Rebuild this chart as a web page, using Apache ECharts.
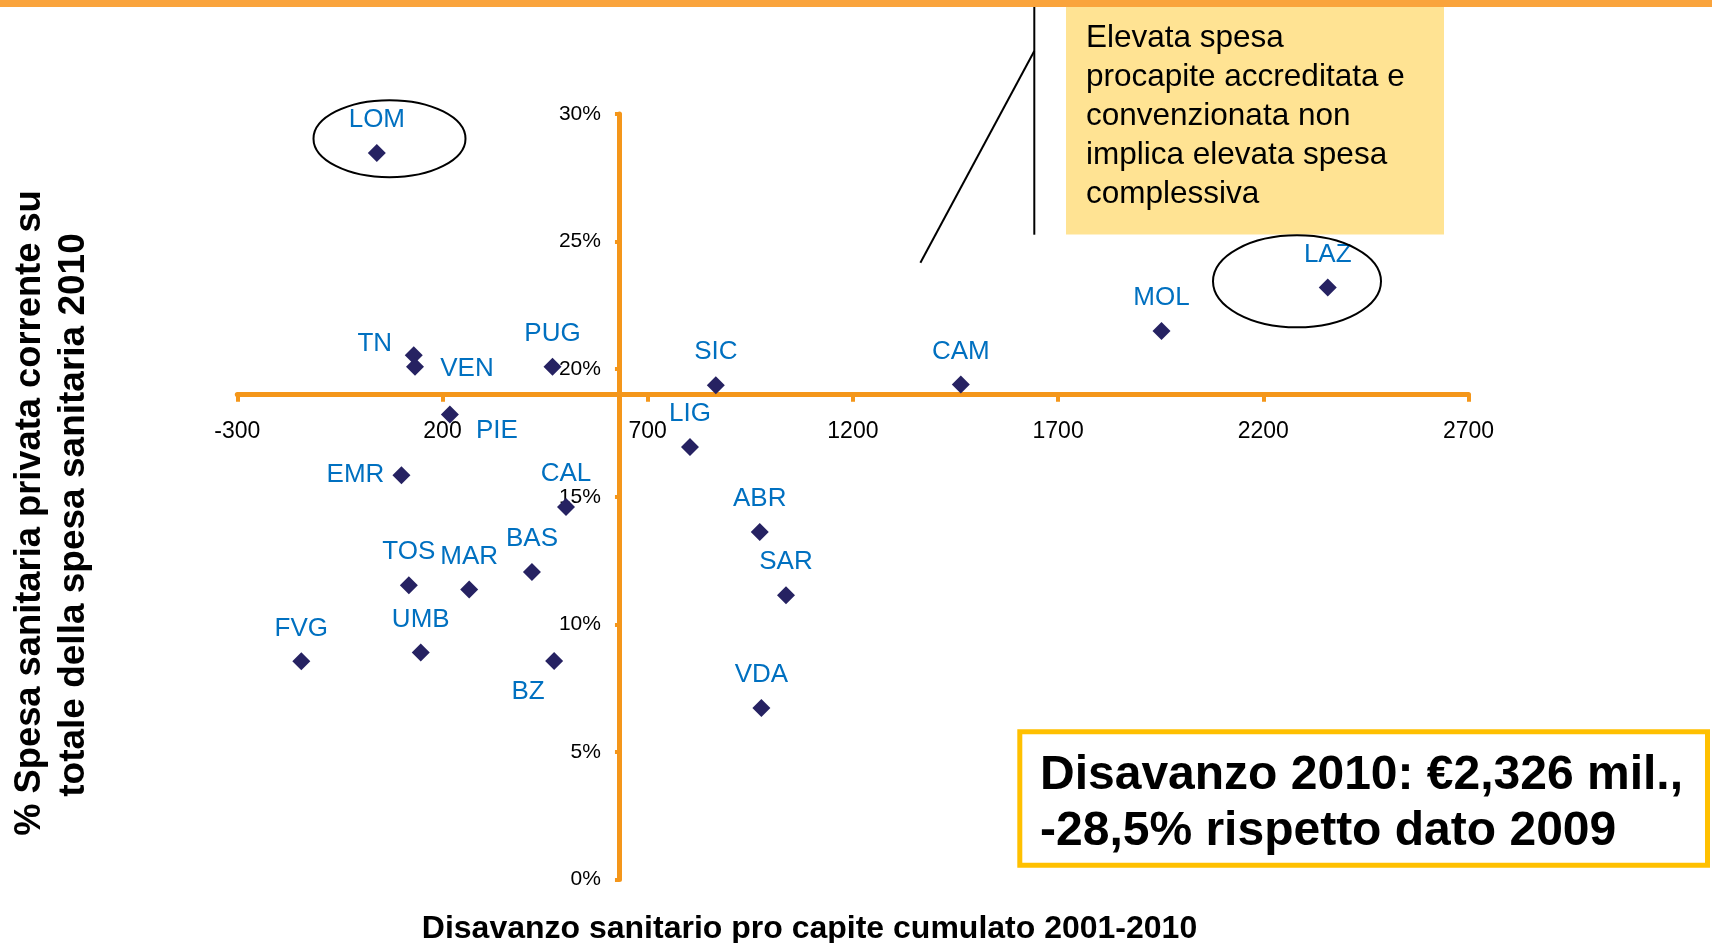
<!DOCTYPE html>
<html>
<head>
<meta charset="utf-8">
<script src="https://cdn.jsdelivr.net/npm/echarts@6/dist/echarts.min.js"></script>
<style>
html,body{margin:0;padding:0;background:#fff;}
#chart{width:1712px;height:943px;}
</style>
</head>
<body>
<div id="chart"></div>
<script>
// ---- data ----
const regions = ['LOM','TN','VEN','PUG','PIE','SIC','LIG','EMR','CAL','BAS','TOS','MAR','UMB','FVG','BZ','ABR','SAR','VDA','CAM','MOL','LAZ'];
const deficitPerCapita = [40, 130, 133, 468, 218, 866, 803, 100, 501, 418, 118, 265, 147, -144, 472, 973, 1037, 977, 1463, 1952, 2357];
const privateShare = [0.2847, 0.2055, 0.2009, 0.2009, 0.1822, 0.1937, 0.1695, 0.1584, 0.1460, 0.1205, 0.1153, 0.1137, 0.0890, 0.0855, 0.0856, 0.1362, 0.1114, 0.0672, 0.1940, 0.2150, 0.2320];
const xTicks = [-300, 200, 700, 1200, 1700, 2200, 2700];
const yTicks = [0, 0.05, 0.10, 0.15, 0.20, 0.25, 0.30];
const xCross = 630;   // value where vertical axis crosses
const yCross = 0.19;  // value where horizontal axis crosses
const xTitle = 'Disavanzo sanitario pro capite cumulato 2001-2010';
const yTitle1 = '% Spesa sanitaria privata corrente su';
const yTitle2 = 'totale della spesa sanitaria 2010';
const noteText = 'Elevata spesa\nprocapite accreditata e\nconvenzionata non\nimplica elevata spesa\ncomplessiva';
const boxText = 'Disavanzo 2010: €2,326 mil.,\n-28,5% rispetto dato 2009';

// ---- label placement (style) ----
const labelOffsets = {
  TN: [-39, -11], VEN: [52, 2], PIE: [47, 16], EMR: [-46, 0], BZ: [-26, 31]
};
const defaultOffset = [0, -33];

const FONT = '"Liberation Sans", Arial, sans-serif';
const AXIS_COLOR = '#F4961A';

const grid = { left: 237.3, right: 243.5, top: 114, bottom: 63.5 };
const W = 1712, H = 943;
const gridW = W - grid.left - grid.right;
const gridH = H - grid.top - grid.bottom;
const xMin = xTicks[0], xMax = xTicks[xTicks.length - 1];
const yMin = yTicks[0], yMax = yTicks[yTicks.length - 1];
const xAxisOffset = -((yCross - yMin) / (yMax - yMin)) * gridH;
const yAxisOffset = -((xCross - xMin) / (xMax - xMin)) * gridW;

const seriesData = regions.map((r, i) => ({
  name: r,
  value: [deficitPerCapita[i], privateShare[i]],
  label: { offset: labelOffsets[r] || defaultOffset }
}));

const chart = echarts.init(document.getElementById('chart'));
chart.setOption({
  animation: false,
  grid: Object.assign({ outerBoundsMode: 'none', containLabel: false }, grid),
  xAxis: {
    type: 'value', min: xMin, max: xMax, interval: 500,
    offset: xAxisOffset,
    axisLine: { show: true, onZero: false, lineStyle: { color: AXIS_COLOR, width: 5 } },
    axisTick: { show: true, length: 7, customValues: xTicks, lineStyle: { color: AXIS_COLOR, width: 4 } },
    axisLabel: { show: true, customValues: xTicks, fontSize: 23, color: '#000', fontFamily: FONT, margin: 25,
      formatter: v => String(v) },
    splitLine: { show: false }
  },
  yAxis: {
    type: 'value', min: yMin, max: yMax, interval: 0.05,
    offset: yAxisOffset,
    axisLine: { show: true, onZero: false, lineStyle: { color: AXIS_COLOR, width: 5 } },
    axisTick: { show: true, length: 4, customValues: yTicks, lineStyle: { color: AXIS_COLOR, width: 4 } },
    axisLabel: { show: true, customValues: yTicks, fontSize: 21, color: '#000', fontFamily: FONT, margin: 18,
      padding: [4, 0, 0, 0],
      formatter: v => Math.round(v * 100) + '%' },
    splitLine: { show: false }
  },
  series: [{
    type: 'scatter',
    symbol: 'diamond',
    symbolSize: 18,
    itemStyle: { color: '#262262', opacity: 1 },
    label: {
      show: true, position: 'inside', formatter: '{b}',
      fontSize: 26, color: '#0070C0', fontFamily: FONT, opacity: 1
    },
    emphasis: { disabled: true },
    data: seriesData,
    z: 3
  }],
  graphic: [
    { type: 'rect', shape: { x: 0, y: 0, width: W, height: 7 }, style: { fill: '#FAA43C' }, z: 10 },
    { type: 'rect', shape: { x: 1066, y: 7, width: 378, height: 227.5 }, style: { fill: '#FFE393' }, z: 10 },
    { type: 'text', x: 1086, y: 18.5, z: 11,
      style: { text: noteText, fontSize: 31.5, lineHeight: 39, fontFamily: FONT, fill: '#000', textAlign: 'left', textVerticalAlign: 'top' } },
    { type: 'line', shape: { x1: 1034.3, y1: 7, x2: 1034.3, y2: 234.7 }, style: { stroke: '#000', lineWidth: 2 }, z: 10 },
    { type: 'line', shape: { x1: 1034.3, y1: 51, x2: 920.4, y2: 262.7 }, style: { stroke: '#000', lineWidth: 2 }, z: 10 },
    { type: 'ellipse', shape: { cx: 389.5, cy: 138.7, rx: 76, ry: 38.5 }, style: { fill: null, stroke: '#000', lineWidth: 2 }, z: 10 },
    { type: 'ellipse', shape: { cx: 1297, cy: 281.3, rx: 84, ry: 46 }, style: { fill: null, stroke: '#000', lineWidth: 2 }, z: 10 },
    { type: 'rect', shape: { x: 1019.8, y: 731.8, width: 687.7, height: 133.4 }, style: { fill: '#fff', stroke: '#FFC000', lineWidth: 5 }, z: 10 },
    { type: 'text', x: 1040, y: 747, z: 11,
      style: { text: boxText, fontSize: 48, fontWeight: 'bold', lineHeight: 56.7, fontFamily: FONT, fill: '#000', textAlign: 'left', textVerticalAlign: 'top' } },
    { type: 'text', x: 809.5, y: 929, z: 11,
      style: { text: xTitle, fontSize: 32, fontWeight: 'bold', fontFamily: FONT, fill: '#000', textAlign: 'center', textVerticalAlign: 'middle' } },
    { type: 'text', x: 29.5, y: 513, rotation: Math.PI / 2, z: 11,
      style: { text: yTitle1, fontSize: 36.3, fontWeight: 'bold', fontFamily: FONT, fill: '#000', textAlign: 'center', textVerticalAlign: 'middle' } },
    { type: 'text', x: 74, y: 515, rotation: Math.PI / 2, z: 11,
      style: { text: yTitle2, fontSize: 37, fontWeight: 'bold', fontFamily: FONT, fill: '#000', textAlign: 'center', textVerticalAlign: 'middle' } }
  ]
});
</script>
</body>
</html>
